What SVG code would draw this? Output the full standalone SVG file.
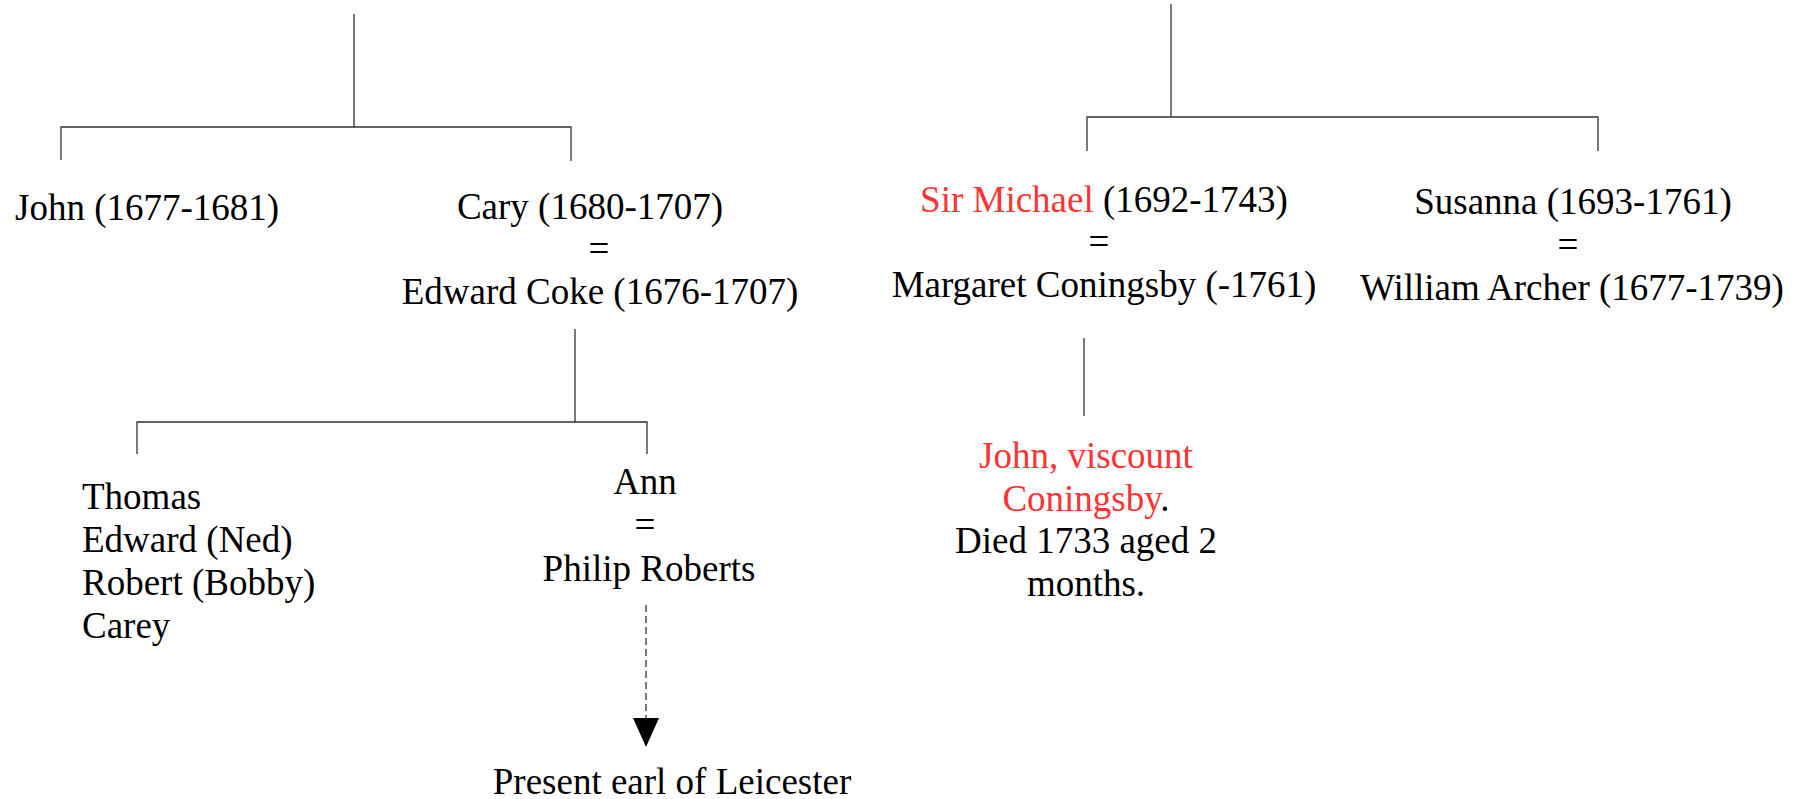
<svg xmlns="http://www.w3.org/2000/svg" width="1807" height="799" viewBox="0 0 1807 799">
<style>
text{font-family:"Liberation Serif","Times New Roman",serif;font-size:37px;fill:#000}
.c{text-anchor:middle}
.r{fill:#ff3333}
.ln{stroke:#333;stroke-width:1.3;fill:none}
.dash{stroke:#333;stroke-width:1.3;fill:none;stroke-dasharray:7 4}
</style>
<defs>
<marker id="ah" markerUnits="userSpaceOnUse" markerWidth="28" markerHeight="30" refX="14" refY="29" orient="auto" viewBox="0 0 28 30">
<path d="M1,0 L27,0 L14,29 Z" fill="#000"/>
</marker>
</defs>
<g id="connectors">
<path class="ln" d="M354,14 V127 M61,160 V127 H571 V161"/>
<path class="ln" d="M575,329 V422 M137,454 V422 H647 V454"/>
<path class="ln" d="M1171,4 V117 M1087,151 V117 H1598 V151"/>
<path class="ln" d="M1084,338 V416"/>
<path class="dash" d="M646,605 V718"/>
<path d="M633,718 L659,718 L646,747 Z" fill="#000"/>
</g>
<g id="node-john"><text x="15" y="220">John (1677-1681)</text></g>
<g id="node-cary">
<text class="c" x="590" y="219">Cary (1680-1707)</text>
<text class="c" x="599" y="261">=</text>
<text class="c" x="600" y="304">Edward Coke (1676-1707)</text>
</g>
<g id="node-sons">
<text x="82" y="509">Thomas</text>
<text x="82" y="552">Edward (Ned)</text>
<text x="82" y="595">Robert (Bobby)</text>
<text x="82" y="638">Carey</text>
</g>
<g id="node-ann">
<text class="c" x="645" y="494">Ann</text>
<text class="c" x="645" y="537">=</text>
<text class="c" x="649" y="581">Philip Roberts</text>
</g>
<g id="node-leicester"><text class="c" x="672" y="794">Present earl of Leicester</text></g>
<g id="node-michael">
<text class="c" x="1104" y="212"><tspan class="r">Sir Michael</tspan> (1692-1743)</text>
<text class="c" x="1099" y="254">=</text>
<text class="c" x="1104" y="297">Margaret Coningsby (-1761)</text>
</g>
<g id="node-susanna">
<text class="c" x="1573" y="214">Susanna (1693-1761)</text>
<text class="c" x="1568" y="257">=</text>
<text class="c" x="1572" y="300">William Archer (1677-1739)</text>
</g>
<g id="node-viscount">
<text class="c r" x="1086" y="468">John, viscount</text>
<text class="c" x="1086" y="511"><tspan class="r">Coningsby</tspan>.</text>
<text class="c" x="1086" y="553">Died 1733 aged 2</text>
<text class="c" x="1086" y="596">months.</text>
</g>
</svg>
